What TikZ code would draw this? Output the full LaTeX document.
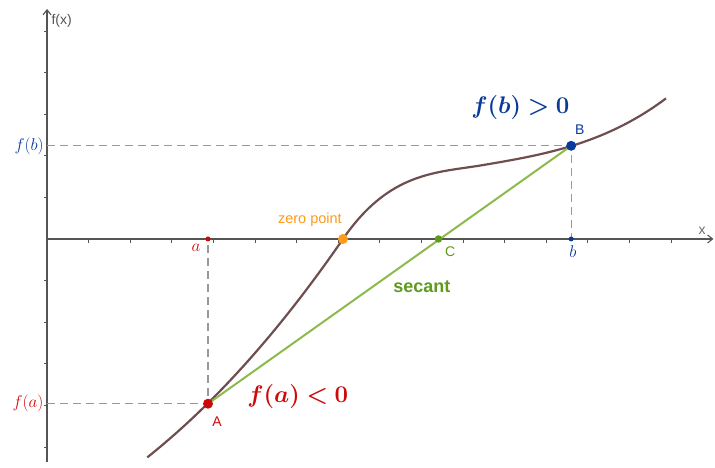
\RequirePackage{fix-cm}
\documentclass[tikz,border=0pt]{standalone}
\usepackage{amsmath,bm}
\usepackage{fontspec}
\setsansfont{Liberation Sans}
\usetikzlibrary{arrows.meta}
\definecolor{axisgray}{HTML}{555555}
\definecolor{dashgray}{HTML}{999999}
\definecolor{curvebrown}{HTML}{6E4E4E}
\definecolor{secgreen}{HTML}{8CBA4C}
\definecolor{ptgreen}{HTML}{5E9A1E}
\definecolor{zeroorange}{HTML}{FF9A1A}
\definecolor{ared}{HTML}{CC0A0A}
\definecolor{bblue}{HTML}{0A3A99}
\tikzset{
  achse/.style={axisgray,line width=1.1pt,-{Straight Barb[length=5pt,width=8pt]}},
  tick/.style={axisgray,line width=0.9pt},
  hilfs/.style={dashgray,line width=1.1pt,dash pattern=on 8pt off 5pt},
  kurve/.style={curvebrown,line width=2.2pt},
  sekante/.style={secgreen,line width=2pt},
  punkt/.style={circle,inner sep=0pt,minimum size=#1},
  sflab/.style={font=\sffamily\fontsize{14}{16}\selectfont,inner sep=1pt},
  mlab/.style={font=\fontsize{17}{20}\selectfont,inner sep=1pt},
  gross/.style={font=\fontsize{24}{28}\selectfont,inner sep=1pt},
}

\begin{document}
\begin{tikzpicture}[x=41.6pt,y=41.6pt]
  \useasboundingbox (-1.13,-5.505) rectangle (16.058,5.745);
  % achsen
  \draw[achse] (0,0) -- (16.02,0);
  \draw[achse] (0,-5.36) -- (0,5.53);
  \foreach \i in {1,...,15} \draw[tick] (\i,0) -- (\i,-0.1);
  \foreach \i in {-5,...,-1,1,2,3,4,5} \draw[tick] (0,\i) -- (-0.08,\i);
  \node[sflab,axisgray,anchor=west] (fx) at (0.08,5.24) {f(x)};
  \node[sflab,dashgray!70!black] (xlab) at (15.75,0.2) {x};
  % punkte
  \coordinate (A) at (3.87,-3.96);
  \coordinate (B) at (12.6,2.24);
  \coordinate (a) at (3.87,0);
  \coordinate (b) at (12.6,0);
  \coordinate (fa) at (0,-3.96);
  \coordinate (fb) at (0,2.24);
  \coordinate (N) at (7.115,0);
  \coordinate (C) at (9.41,0);
  % hilfslinien
  \draw[hilfs] (fb) -- (B) -- (b);
  \draw[hilfs] (fa) -- (A) -- (a);
  % kurve und sekante
  \draw[kurve] (2.41,-5.25) .. controls (3.98,-4.0) and (5.55,-2.27) .. (N)
    .. controls (8.243,1.636) and (9.372,1.588) .. (10.5,1.78)
    .. controls (11.96,2.028) and (13.42,2.285) .. (14.88,3.38);
  \draw[sekante] (A) -- (B);
  \node[punkt=5pt,fill=ared] (pa) at (a) {};
  \node[punkt=5pt,fill=bblue] (pb) at (b) {};
  \node[punkt=10pt,fill=ared] (pA) at (A) {};
  \node[punkt=10pt,fill=bblue] (pB) at (B) {};
  \node[punkt=10pt,fill=zeroorange] (pN) at (N) {};
  \node[punkt=7.5pt,fill=ptgreen] (pC) at (C) {};
  % beschriftung
  \node[mlab,ared,anchor=east] (lfa) at (-0.06,-3.96) {$f(a)$};
  \node[mlab,bblue,anchor=east] (lfb) at (-0.05,2.24) {$f(b)$};
  \node[mlab,ared] (la) at (3.58,-0.22) {$a$};
  \node[mlab,bblue] (lb) at (12.64,-0.3) {$b$};
  \node[sflab,ared] (lA) at (4.09,-4.4) {A};
  \node[sflab,bblue] (lB) at (12.81,2.62) {B};
  \node[sflab,ptgreen] (lC) at (9.69,-0.31) {C};
  \node[sflab,zeroorange,font=\sffamily\fontsize{14.5}{16}\selectfont] (lN) at (6.32,0.46) {zero point};
  \node[ptgreen,font=\sffamily\bfseries\fontsize{18}{20}\selectfont] (lsek) at (9.01,-1.15) {secant};
  \node[gross,bblue] (fbpos) at (11.38,3.15) {$\bm{f(b)>0}$};
  \node[gross,ared] (faneg) at (6.03,-3.79) {$\bm{f(a)<0}$};
\end{tikzpicture}
\end{document}
